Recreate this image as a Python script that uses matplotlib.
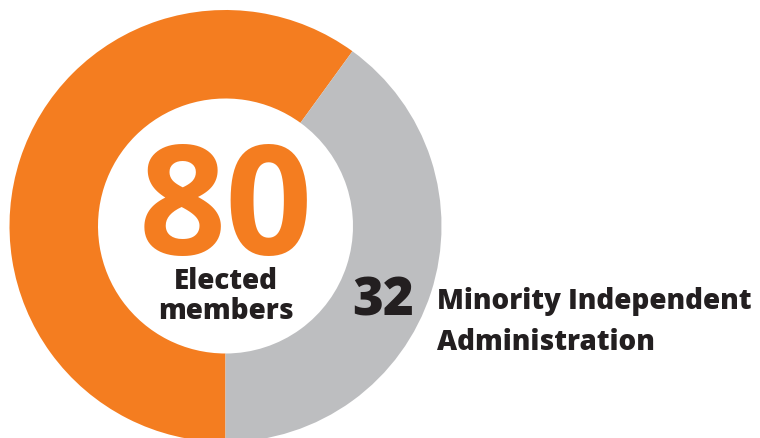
import matplotlib

matplotlib.use("Agg")
import matplotlib.pyplot as plt

W, H = 760, 439

labels = ["Elected (other)", "Minority Independent Administration"]
values = [48, 32]
colors = ["#F47D20", "#BDBEC0"]
total = sum(values)
minority = values[1]

DARK = "#231F20"
FONT = ["Open Sans", "DejaVu Sans"]

fig = plt.figure(figsize=(W / 100, H / 100), dpi=100)
ax = fig.add_axes([0, 0, 1, 1])

cx, cy = 225.5, H - 227
r_out, r_in = 216, 127.5
ax.pie(values, colors=colors, startangle=54, counterclock=True,
       center=(cx, cy), radius=r_out,
       wedgeprops=dict(width=r_out - r_in, linewidth=0))

ax.set_xlim(0, W)
ax.set_ylim(0, H)
ax.set_aspect("equal")
ax.axis("off")

ax.text(cx, H - 255, str(total), color=colors[0], fontsize=110, fontweight="bold",
        family=FONT, ha="center", va="baseline")
ax.text(cx, H - 289, "Elected", color=DARK, fontsize=20, fontweight=800,
        family=FONT, ha="center", va="baseline")
ax.text(cx, H - 319, "members", color=DARK, fontsize=20, fontweight=800,
        family=FONT, ha="center", va="baseline")

ax.text(352, H - 316, str(minority), color=DARK, fontsize=38, fontweight=800,
        family=FONT, ha="left", va="baseline")
ax.text(437, H - 309, "Minority Independent", color=DARK, fontsize=20, fontweight=800,
        family=FONT, ha="left", va="baseline")
ax.text(437, H - 350, "Administration", color=DARK, fontsize=20, fontweight=800,
        family=FONT, ha="left", va="baseline")

fig.savefig("out.png", dpi=100)
